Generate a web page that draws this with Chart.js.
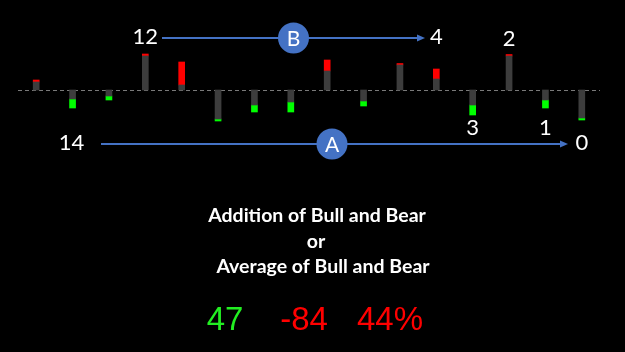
<!DOCTYPE html>
<html>
<head>
<meta charset="utf-8">
<script src="https://cdn.jsdelivr.net/npm/chart.js@4/dist/chart.umd.min.js"></script>
<style>
  html, body { margin: 0; padding: 0; background: #000; }
  #wrap { width: 625px; height: 352px; }
</style>
</head>
<body>
<div id="wrap"><canvas id="bullBear" width="625" height="352"></canvas></div>
<script>
// bar bodies (gray) and caps (red = bull, green = bear), one per period
var periods = ['1','2','3','4','5','6','7','8','9','10','11','12','13','14','15','16'];
var bodyValues = [8, -9, -6, 34, 5, -29, -15, -12, 19, -11, 25, 11, -15, 34, -10, -28];
var capValues = [2, -9, -4, 2, 23, -2, -7, -10, 11, -5, 1.5, 10, -10, 1.5, -8, -2];

// counts shown next to certain bars: [bar index, label, side]
var countLabels = [[1, '14', 'A'], [3, '12', 'B'], [11, '4', 'B'], [12, '3', 'low'], [13, '2', 'high'], [14, '1', 'low'], [15, '0', 'A']];

var summaryLines = ['Addition of Bull and Bear', 'or', 'Average of Bull and Bear'];
var summaryNumbers = ['47', '-84', '44%'];

var capColors = capValues.map(function(v) { return v >= 0 ? '#ff0000' : '#00ff00'; });

var overlay = {
    id: 'overlay',
    beforeDraw: function(chart) {
        var c = chart.ctx;
        c.save();
        c.fillStyle = '#000';
        c.fillRect(0, 0, chart.width, chart.height);
        // zero line
        var y0 = chart.scales.y.getPixelForValue(0);
        c.strokeStyle = '#7a7a7a';
        c.lineWidth = 1;
        c.setLineDash([4, 3]);
        c.beginPath();
        c.moveTo(chart.chartArea.left, y0 + 0.5);
        c.lineTo(chart.chartArea.right, y0 + 0.5);
        c.stroke();
        c.restore();
    },
    afterDraw: function(chart) {
        var c = chart.ctx;
        var xs = chart.scales.x;
        var px = function(i) { return xs.getPixelForValue(i); };
        c.save();
        c.textAlign = 'center';
        c.textBaseline = 'middle';
        c.fillStyle = '#fff';
        c.font = '22px Lato';
        var yFor = { A: 143, B: 37, low: 128, high: 39 };
        countLabels.forEach(function(l) {
            c.fillText(l[1], px(l[0]) - (l[1] === '14' ? 1 : 0), yFor[l[2]]);
        });

        function arrow(x1, x2, y, cx, letter) {
            c.strokeStyle = '#4472c4';
            c.fillStyle = '#4472c4';
            c.lineWidth = 2;
            c.beginPath();
            c.moveTo(x1, y);
            c.lineTo(x2 - 6, y);
            c.stroke();
            c.beginPath();
            c.moveTo(x2, y);
            c.lineTo(x2 - 8, y - 3.5);
            c.lineTo(x2 - 8, y + 3.5);
            c.closePath();
            c.fill();
            c.beginPath();
            c.arc(cx, y, 15.5, 0, Math.PI * 2);
            c.fill();
            c.fillStyle = '#fff';
            c.font = '21px Lato';
            c.fillText(letter, cx, y + 1);
        }
        arrow(162, 425, 38, 293.5, 'B');
        arrow(101, 568, 144, 332, 'A');

        c.fillStyle = '#fff';
        c.font = 'bold 19.5px Lato';
        c.fillText(summaryLines[0], 317, 216);
        c.fillText(summaryLines[1], 316, 242);
        c.fillText(summaryLines[2], 323, 267);

        c.font = '33px "Liberation Sans"';
        c.fillStyle = '#22ee22';
        c.fillText(summaryNumbers[0], 225, 321);
        c.fillStyle = '#ff0000';
        c.fillText(summaryNumbers[1], 304, 321);
        c.fillText(summaryNumbers[2], 390, 321);
        c.restore();
    }
};

new Chart(document.getElementById('bullBear'), {
    type: 'bar',
    data: {
        labels: periods,
        datasets: [{
            data: bodyValues,
            backgroundColor: '#3d3d3d',
            barThickness: 6
        }, {
            data: capValues,
            backgroundColor: capColors,
            barThickness: 6
        }]
    },
    options: {
        responsive: false,
        animation: false,
        layout: { padding: { left: 18, right: 25, top: 40, bottom: 212 } },
        plugins: { legend: { display: false }, tooltip: { enabled: false } },
        scales: {
            x: { stacked: true, display: false },
            y: { stacked: true, display: false, min: -50, max: 50 }
        }
    },
    plugins: [overlay]
});
</script>
</body>
</html>
